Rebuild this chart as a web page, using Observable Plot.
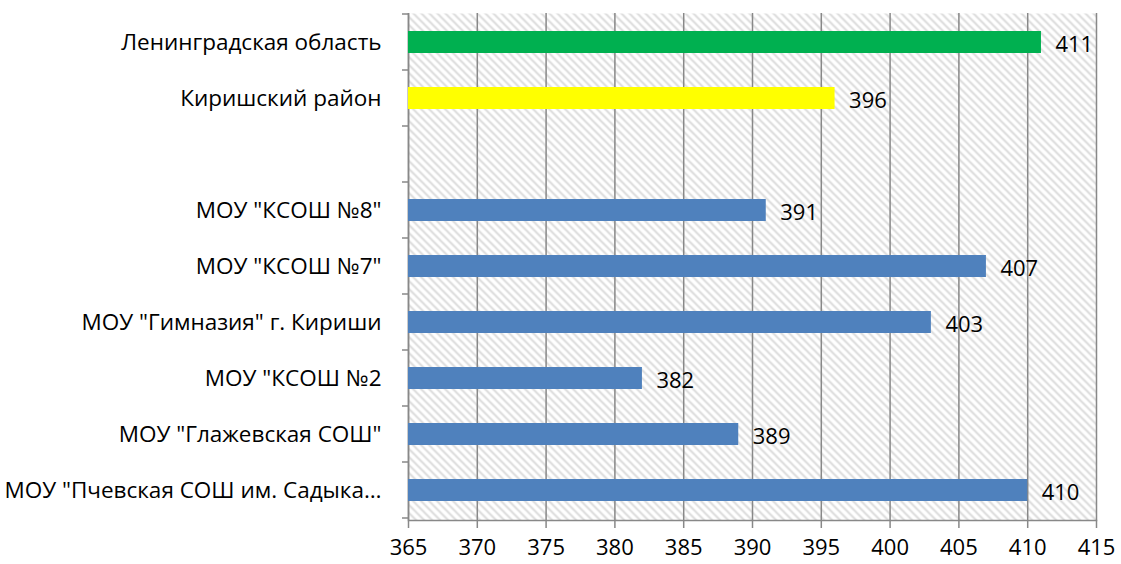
<!DOCTYPE html>
<html>
<head>
<meta charset="utf-8">
<script src="https://cdn.jsdelivr.net/npm/d3@7"></script>
<script src="https://cdn.jsdelivr.net/npm/@observablehq/plot@0.6"></script>
<style>
  html, body { margin: 0; padding: 0; background: #fff; }
  #chart { width: 1121px; height: 564px; }
</style>
</head>
<body>
<svg width="0" height="0" style="position:absolute">
  <defs>
    <pattern id="hatch" patternUnits="userSpaceOnUse" width="8" height="8">
      <rect width="8" height="8" fill="#ffffff"></rect>
      <path d="M-1,-1 L9,9 M-1,7 L1,9 M7,-1 L9,1" stroke="#dcdcdc" stroke-width="2"></path>
    </pattern>
  </defs>
</svg>
<div id="chart"></div>
<script>
// Data
const categories = [
  "Ленинградская область",
  "Киришский район",
  " ",
  "МОУ \"КСОШ №8\"",
  "МОУ \"КСОШ №7\"",
  "МОУ \"Гимназия\" г. Кириши",
  "МОУ \"КСОШ №2",
  "МОУ \"Глажевская СОШ\"",
  "МОУ \"Пчевская СОШ им. Садыка…"
];
const values = [411, 396, null, 391, 407, 403, 382, 389, 410];
const colors = ["#00b050", "#ffff00", null, "#4f81bd", "#4f81bd", "#4f81bd", "#4f81bd", "#4f81bd", "#4f81bd"];
const xTicks = [365, 370, 375, 380, 385, 390, 395, 400, 405, 410, 415];
const baseline = 365;

const data = categories.map((c, i) => ({cat: c, value: values[i], color: colors[i]}))
  .filter(d => d.value != null);

// band boundary ticks on the y axis, positioned via the y scale
function yBoundaryTicks(index, scales, values, dims) {
  const y = scales.y;
  const step = y.step ? y.step() : (y.bandwidth() / 0.4);
  const bw = y.bandwidth();
  const g = d3.create("svg:g");
  const x0 = dims.marginLeft;
  const ys = categories.map(c => y(c) - (step - bw) / 2);
  ys.push(y(categories[categories.length - 1]) + bw + (step - bw) / 2);
  for (const yy of ys) {
    g.append("line")
      .attr("x1", x0 - 6).attr("x2", x0)
      .attr("y1", yy).attr("y2", yy)
      .attr("stroke", "#888").attr("stroke-width", 1.5);
  }
  return g.node();
}

const fontFamily = "'Open Sans', sans-serif";

const plot = Plot.plot({
  width: 1121,
  height: 564,
  marginLeft: 408,
  marginRight: 25,
  marginTop: 13,
  marginBottom: 44,
  style: {fontFamily, fontSize: "22px", color: "#000", background: "#fff"},
  x: {domain: [365, 415]},
  y: {domain: categories, paddingInner: 0.6, paddingOuter: 0.3},
  marks: [
    Plot.frame({fill: "url(#hatch)", stroke: null}),
    Plot.gridX(xTicks, {stroke: "#888", strokeOpacity: 1, strokeWidth: 1.5}),
    Plot.ruleX([baseline], {stroke: "#888", strokeWidth: 1.5}),
    Plot.frame({anchor: "bottom", stroke: "#888", strokeWidth: 1.5}),
    Plot.barX(data, {y: "cat", x1: () => baseline, x2: "value", fill: "color"}),
    Plot.text(data, {y: "cat", x: "value", text: d => String(d.value), textAnchor: "start", dx: 14, dy: 2, fontSize: 22, fill: "#000"}),
    Plot.axisX({ticks: xTicks, tickSize: 8, tickPadding: 11, stroke: "#888", strokeWidth: 1.5, fontSize: 22, label: null}),
    Plot.axisY({tickSize: 0, tickPadding: 27, fontSize: 22.5, label: null}),
    yBoundaryTicks
  ]
});
document.getElementById("chart").appendChild(plot);
</script>
</body>
</html>
